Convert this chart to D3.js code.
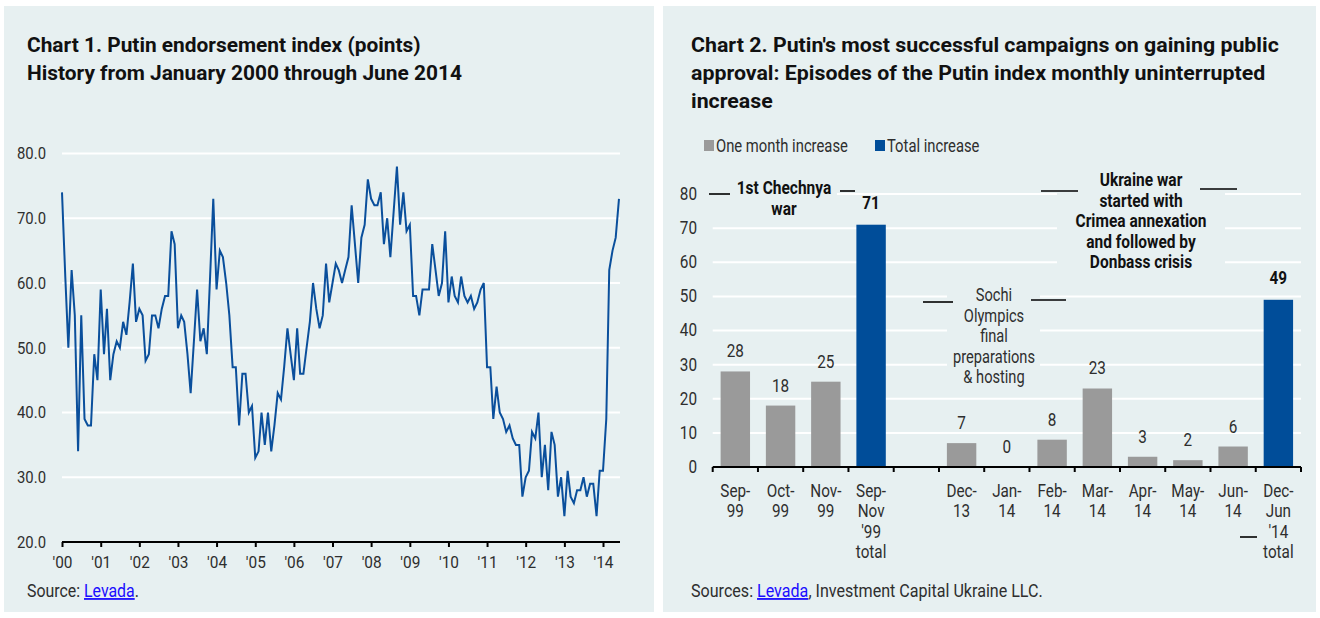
<!DOCTYPE html>
<html>
<head>
<meta charset="utf-8">
<script src="https://cdn.jsdelivr.net/npm/d3@7.9.0/dist/d3.min.js"></script>
<style>
  body { margin: 0; background: #ffffff; }
  svg { display: block; }
</style>
</head>
<body>
<svg id="chart" width="1320" height="618"></svg>
<script>
// ===== DATA =====
// Chart 1: monthly Putin endorsement index, Jan 2000 .. Jun 2014
const startMonth = new Date(2000, 0, 1);
const endorsement = [
  74, 61, 50, 62, 55, 34, 55, 39, 38, 38, 49, 45,   // 2000
  59, 49, 56, 45, 49, 51, 50, 54, 52, 57, 63, 54,   // 2001
  56, 55, 48, 49, 55, 55, 53, 56, 58, 58, 68, 66,   // 2002
  53, 55, 54, 49, 43, 51, 59, 51, 53, 49, 61, 73,   // 2003
  59, 65, 64, 60, 55, 47, 47, 38, 46, 46, 40, 41,   // 2004
  33, 34, 40, 35, 40, 34, 38, 43, 42, 47, 53, 49,   // 2005
  45, 53, 46, 46, 50, 54, 60, 56, 53, 55, 63, 57,   // 2006
  60, 63, 62, 60, 62, 64, 72, 66, 60, 67, 69, 76,   // 2007
  73, 72, 72, 74, 66, 70, 64, 71, 78, 69, 74, 68,   // 2008
  69, 58, 58, 55, 59, 59, 59, 66, 62, 58, 60, 68,   // 2009
  57, 61, 58, 57, 61, 58, 57, 58, 56, 57, 59, 60,   // 2010
  47, 47, 39, 44, 40, 39, 37, 38, 36, 35, 35, 27,   // 2011
  30, 31, 37, 36, 40, 30, 35, 28, 37, 35, 27, 30,   // 2012
  24, 31, 27, 26, 28, 28, 30, 27, 29, 29, 24, 31,   // 2013
  31, 39, 62, 65, 67, 73                            // 2014
];
const yearTicks = d3.range(2000, 2015);
const leftYTicks = [20, 30, 40, 50, 60, 70, 80];

// Chart 2: episodes of uninterrupted monthly increase
const barCategories = ["Sep-99", "Oct-99", "Nov-99", "Sep-Nov '99 total", "gap",
  "Dec-13", "Jan-14", "Feb-14", "Mar-14", "Apr-14", "May-14", "Jun-14", "Dec-Jun '14 total"];
const barLabels = [["Sep-", "99"], ["Oct-", "99"], ["Nov-", "99"], ["Sep-", "Nov", "'99", "total"], [],
  ["Dec-", "13"], ["Jan-", "14"], ["Feb-", "14"], ["Mar-", "14"], ["Apr-", "14"], ["May-", "14"],
  ["Jun-", "14"], ["Dec-", "Jun", "'14", "total"]];
const barValues = [28, 18, 25, 71, null, 7, 0, 8, 23, 3, 2, 6, 49];
const barKinds = ["month", "month", "month", "total", null,
  "month", "month", "month", "month", "month", "month", "month", "total"];
const rightYTicks = [0, 10, 20, 30, 40, 50, 60, 70, 80];

// ===== STYLE =====
const FONT = "Roboto, 'DejaVu Sans Condensed', sans-serif";
const BG = "#e7f0f1";
const BLUE = "#0a4f9c";
const BAR_BLUE = "#004d99";
const GREY = "#9a9a9a";
const TEXT = "#2e2e2e";

const svg = d3.select("#chart");

// squeeze text horizontally around its anchor x (the reference uses a condensed face)
function squeeze(sel, sx) {
  sel.each(function () {
    const t = d3.select(this);
    let ax = t.attr("x");
    if (ax === null) {
      const ts = t.select("tspan");
      ax = ts.empty() ? 0 : ts.attr("x");
    }
    ax = +ax || 0;
    t.attr("transform", `translate(${ax},0) scale(${sx},1) translate(${-ax},0)`);
  });
}
function fitFactor(node, target) {
  return target / node.getComputedTextLength();
}

// panels
svg.append("rect").attr("x", 4).attr("y", 6).attr("width", 650).attr("height", 606).attr("fill", BG);
svg.append("rect").attr("x", 663).attr("y", 6).attr("width", 653).attr("height", 606).attr("fill", BG);

function title(x, y, lines, target) {
  const t = svg.append("text")
    .attr("x", x).attr("y", y)
    .attr("font-family", FONT)
    .attr("font-weight", "bold")
    .attr("font-size", "20px")
    .attr("fill", "#111");
  lines.forEach((l, i) => {
    t.append("tspan").attr("x", x).attr("dy", i === 0 ? 0 : 28).text(l);
  });
  squeeze(t, fitFactor(t.select("tspan").node(), target));
}

// ===== CHART 1 =====
title(27, 52, ["Chart 1. Putin endorsement index (points)", "History from January 2000 through June 2014"], 394);

const x1 = d3.scaleTime()
  .domain([startMonth, new Date(2014, 0, 1)])
  .range([62, 603]);
const y1 = d3.scaleLinear().domain([20, 80]).range([542, 153.5]);

const g1 = svg.append("g");

// gridlines
g1.selectAll(".grid1")
  .data(leftYTicks.filter(d => d > 20))
  .enter()
  .append("line")
  .attr("x1", 62).attr("x2", 620)
  .attr("y1", d => y1(d)).attr("y2", d => y1(d))
  .attr("stroke", "#ffffff")
  .attr("stroke-width", 2);

// y labels
const ylab1 = g1.selectAll(".ylab1")
  .data(leftYTicks)
  .enter()
  .append("text")
  .attr("x", 46)
  .attr("y", d => y1(d) + 6)
  .attr("text-anchor", "end")
  .attr("font-family", FONT)
  .attr("font-size", "17px")
  .attr("fill", TEXT)
  .text(d3.format(".1f"));
squeeze(ylab1, fitFactor(ylab1.node(), 29));

// x axis
const xAxis1 = g1.append("g")
  .attr("transform", "translate(0,542)")
  .call(d3.axisBottom(x1)
    .tickValues(yearTicks.map(yr => new Date(yr, 0, 1)))
    .tickFormat(d3.timeFormat("'%y"))
    .tickSizeInner(5)
    .tickSizeOuter(0));
xAxis1.select(".domain").attr("stroke", "#000").attr("stroke-width", 2.2).attr("d", "M62,0H620");
xAxis1.selectAll(".tick line").attr("stroke", "#000").attr("stroke-width", 2);
const xt1 = xAxis1.selectAll(".tick text")
  .attr("font-family", FONT)
  .attr("font-size", "17px")
  .attr("fill", TEXT)
  .attr("y", 14);
squeeze(xt1, fitFactor(xt1.node(), 20));

// line
const series = endorsement.map((v, i) => ({ date: d3.timeMonth.offset(startMonth, i), value: v }));
const line1 = d3.line()
  .x(d => x1(d.date))
  .y(d => y1(d.value));

g1.append("path")
  .datum(series)
  .attr("fill", "none")
  .attr("stroke", BLUE)
  .attr("stroke-width", 2)
  .attr("stroke-linejoin", "miter")
  .attr("d", line1);

// source
const src1 = svg.append("text")
  .attr("x", 27).attr("y", 597)
  .attr("font-family", FONT)
  .attr("font-size", "18px")
  .attr("fill", TEXT);
src1.append("tspan").text("Source: ");
src1.append("tspan").attr("fill", "#1a0dff").attr("text-decoration", "underline").text("Levada");
src1.append("tspan").text(".");
squeeze(src1, fitFactor(src1.node(), 112));

// ===== CHART 2 =====
title(691, 52, ["Chart 2. Putin's most successful campaigns on gaining public",
  "approval: Episodes of the Putin index monthly uninterrupted", "increase"], 588);

// legend
const legend = svg.append("g").attr("font-family", FONT).attr("font-size", "18px").attr("fill", TEXT);
legend.append("rect").attr("x", 704).attr("y", 140).attr("width", 10).attr("height", 11).attr("fill", GREY);
const lg1 = legend.append("text").attr("x", 716).attr("y", 152).text("One month increase");
legend.append("rect").attr("x", 875).attr("y", 140).attr("width", 10).attr("height", 11).attr("fill", BAR_BLUE);
const lg2 = legend.append("text").attr("x", 887).attr("y", 152).text("Total increase");
const legendSx = fitFactor(lg1.node(), 132);
squeeze(lg1, legendSx);
squeeze(lg2, legendSx);

const x2 = d3.scaleBand()
  .domain(barCategories)
  .range([712.7, 1301])
  .paddingInner(0.35)
  .paddingOuter(0.175);
const y2 = d3.scaleLinear().domain([0, 80]).range([467, 194]);

const g2 = svg.append("g");

// gridlines
g2.selectAll(".grid2")
  .data(rightYTicks.filter(d => d > 0))
  .enter()
  .append("line")
  .attr("x1", 712.7).attr("x2", 1301)
  .attr("y1", d => y2(d)).attr("y2", d => y2(d))
  .attr("stroke", "#ffffff")
  .attr("stroke-width", 2);

// annotation boxes hide the gridlines behind the notes
const boxes = [
  { x: 709, y: 176, w: 128, h: 42 },
  { x: 947, y: 284, w: 93, h: 106 },
  { x: 1057, y: 172, w: 168, h: 100 }
];
g2.selectAll(".box")
  .data(boxes)
  .enter()
  .append("rect")
  .attr("x", d => d.x).attr("y", d => d.y)
  .attr("width", d => d.w).attr("height", d => d.h)
  .attr("fill", BG);

// y labels
const ylab2 = g2.selectAll(".ylab2")
  .data(rightYTicks)
  .enter()
  .append("text")
  .attr("x", 697)
  .attr("y", d => y2(d) + 6)
  .attr("text-anchor", "end")
  .attr("font-family", FONT)
  .attr("font-size", "18px")
  .attr("fill", TEXT)
  .text(d => d);
squeeze(ylab2, 0.85);

// bars
const bars = barCategories.map((c, i) => ({ cat: c, value: barValues[i], kind: barKinds[i], label: barLabels[i] }));
g2.selectAll(".bar")
  .data(bars.filter(d => d.value !== null))
  .enter()
  .append("rect")
  .attr("x", d => x2(d.cat))
  .attr("y", d => y2(d.value))
  .attr("width", x2.bandwidth())
  .attr("height", d => y2(0) - y2(d.value))
  .attr("fill", d => d.kind === "total" ? BAR_BLUE : GREY);

// value labels
const vals = g2.selectAll(".val")
  .data(bars.filter(d => d.value !== null))
  .enter()
  .append("text")
  .attr("x", d => x2(d.cat) + x2.bandwidth() / 2)
  .attr("y", d => y2(d.value) - (d.kind === "total" ? 16 : 14))
  .attr("text-anchor", "middle")
  .attr("font-family", FONT)
  .attr("font-size", "18px")
  .attr("font-weight", d => d.kind === "total" ? "bold" : "normal")
  .attr("fill", d => d.kind === "total" ? "#111" : TEXT)
  .text(d => d.value);
squeeze(vals, 0.85);

// x axis
const step = x2.step();
g2.append("line")
  .attr("x1", 712.7).attr("x2", 1301)
  .attr("y1", y2(0)).attr("y2", y2(0))
  .attr("stroke", "#000").attr("stroke-width", 2.2);
g2.selectAll(".tick2")
  .data(d3.range(barCategories.length + 1))
  .enter()
  .append("line")
  .attr("x1", i => 712.7 + i * step).attr("x2", i => 712.7 + i * step)
  .attr("y1", y2(0)).attr("y2", y2(0) + 5)
  .attr("stroke", "#000").attr("stroke-width", 2);

const xl = g2.selectAll(".xlab2")
  .data(bars.filter(d => d.label.length > 0))
  .enter()
  .append("text")
  .attr("text-anchor", "middle")
  .attr("font-family", FONT)
  .attr("font-size", "18px")
  .attr("fill", TEXT);
xl.each(function (d) {
  const cx = x2(d.cat) + x2.bandwidth() / 2;
  d.label.forEach((l, i) => {
    d3.select(this).append("tspan").attr("x", cx).attr("y", 497 + i * 20.3).text(l);
  });
});
squeeze(xl, fitFactor(xl.select("tspan").node(), 30));

// annotations
function note(cx, y0, lines, bold) {
  const t = g2.append("text")
    .attr("text-anchor", "middle")
    .attr("font-family", FONT)
    .attr("font-size", "18px")
    .attr("font-weight", bold ? "bold" : "normal")
    .attr("fill", bold ? "#111" : TEXT);
  lines.forEach((l, i) => {
    t.append("tspan").attr("x", cx).attr("y", y0 + i * 20.6).text(l);
  });
  return t;
}
function dash(xa, xb, y) {
  g2.append("line").attr("x1", xa).attr("x2", xb).attr("y1", y).attr("y2", y)
    .attr("stroke", "#000").attr("stroke-width", 1.6);
}

const chechnya = note(784, 194, ["1st Chechnya", "war"], true);
dash(709, 730, 194);
dash(840, 855, 191);

const sochi = note(994, 301, ["Sochi", "Olympics", "final", "preparations", "& hosting"], false);
squeeze(sochi, fitFactor(sochi.selectAll("tspan").nodes()[3], 82));
dash(923, 953, 302);
dash(1031, 1066, 300);

const ukraine = note(1141, 186, ["Ukraine war", "started with", "Crimea annexation", "and followed  by", "Donbass crisis"], true);
const boldSx = fitFactor(ukraine.selectAll("tspan").nodes()[2], 131);
squeeze(ukraine, boldSx);
squeeze(chechnya, boldSx);
dash(1041, 1078, 191);
dash(1200, 1237, 189);
dash(1240, 1257, 537);

// source
const src2 = svg.append("text")
  .attr("x", 691).attr("y", 597)
  .attr("font-family", FONT)
  .attr("font-size", "18px")
  .attr("fill", TEXT);
src2.append("tspan").text("Sources: ");
src2.append("tspan").attr("fill", "#1a0dff").attr("text-decoration", "underline").text("Levada");
src2.append("tspan").text(", Investment Capital Ukraine LLC.");
squeeze(src2, fitFactor(src2.node(), 352));
</script>
</body>
</html>
